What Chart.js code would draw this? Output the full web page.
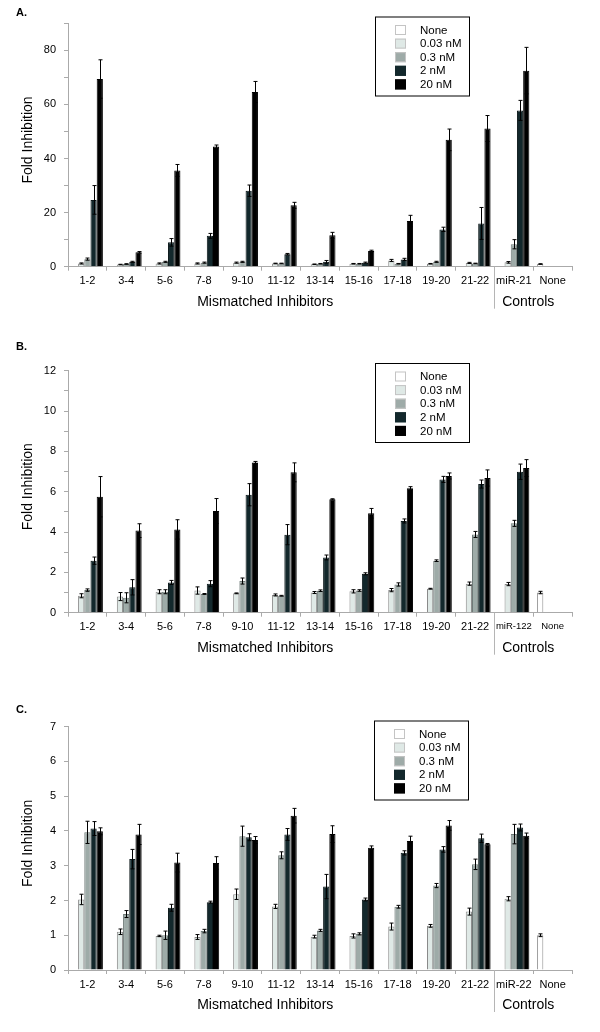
<!DOCTYPE html>
<html>
<head>
<meta charset="utf-8">
<script src="https://cdn.jsdelivr.net/npm/chart.js@4.4.1/dist/chart.umd.min.js"></script>
<style>
  body { margin: 0; background: #fff; width: 600px; height: 1032px; position: relative; overflow: hidden; font-family: Arial, "Liberation Sans", sans-serif; }
  .panel { position: absolute; left: 0; width: 600px; }
  .tag { position: absolute; left: 16px; font-weight: bold; font-size: 11px; color: #000; }
</style>
</head>
<body>
<div class="panel" style="top:0;height:330px"><canvas id="chartA" width="600" height="330"></canvas></div>
<div class="panel" style="top:330px;height:330px"><canvas id="chartB" width="600" height="330"></canvas></div>
<div class="panel" style="top:660px;height:372px"><canvas id="chartC" width="600" height="372"></canvas></div>
<div class="tag" style="top:6px">A.</div>
<div class="tag" style="top:340px">B.</div>
<div class="tag" style="top:703px">C.</div>
<script>
// series shared by all three panels
const seriesNames = ['None', '0.03 nM', '0.3 nM', '2 nM', '20 nM'];
const seriesColors = ['#ffffff', '#dfe9e6', '#9eaba8', '#13282c', '#000000'];
const seriesBorders = ['#8a8a8a', '#8a8a8a', '#6f7a78', '#0b1719', '#000000'];

// panel A
const categoriesA = ['1-2', '3-4', '5-6', '7-8', '9-10', '11-12', '13-14', '15-16', '17-18', '19-20', '21-22', 'miR-21', 'None'];
const noneA    = [null, null, null, null, null, null, null, null, null, null, null, null, 1.0];
const noneAErr = [null, null, null, null, null, null, null, null, null, null, null, null, 0.1];
const a003    = [1.2, 0.8, 1.2, 1.2, 1.5, 1.2, 0.9, 1.1, 2.3, 1.1, 1.4, 1.6, null];
const a003Err = [0.2, 0.1, 0.2, 0.2, 0.2, 0.1, 0.1, 0.1, 0.4, 0.1, 0.2, 0.3, null];
const a03     = [2.8, 1.0, 1.8, 1.5, 1.8, 1.2, 1.1, 1.1, 1.1, 1.8, 1.2, 8.3, null];
const a03Err  = [0.4, 0.1, 0.2, 0.2, 0.2, 0.1, 0.1, 0.1, 0.1, 0.2, 0.1, 1.7, null];
const a2      = [24.7, 1.8, 9.0, 11.4, 28.1, 4.6, 1.8, 1.5, 2.7, 13.8, 16.0, 57.8, null];
const a2Err   = [5.3, 0.2, 1.4, 0.9, 2.1, 0.3, 0.5, 0.2, 0.4, 0.8, 5.9, 3.7, null];
const a20     = [69.4, 5.3, 35.6, 44.4, 64.6, 22.7, 11.6, 5.8, 16.9, 46.9, 51.1, 72.5, null];
const a20Err  = [7.1, 0.3, 2.2, 0.6, 3.9, 1.1, 1.1, 0.3, 2.1, 4.0, 4.8, 8.6, null];

// panel B
const categoriesB = ['1-2', '3-4', '5-6', '7-8', '9-10', '11-12', '13-14', '15-16', '17-18', '19-20', '21-22', 'miR-122', 'None'];
const noneB    = [null, null, null, null, null, null, null, null, null, null, null, null, 1.0];
const noneBErr = [null, null, null, null, null, null, null, null, null, null, null, null, 0.06];
const b003    = [0.84, 0.80, 1.04, 1.10, 0.96, 0.88, 1.00, 1.06, 1.12, 1.19, 1.44, 1.42, null];
const b003Err = [0.10, 0.20, 0.10, 0.18, 0.02, 0.05, 0.05, 0.08, 0.08, 0.02, 0.08, 0.08, null];
const b03     = [1.12, 0.74, 1.04, 0.93, 1.57, 0.84, 1.09, 1.10, 1.40, 2.58, 3.88, 4.43, null];
const b03Err  = [0.06, 0.25, 0.10, 0.02, 0.15, 0.02, 0.04, 0.04, 0.08, 0.04, 0.15, 0.15, null];
const b2      = [2.58, 1.26, 1.50, 1.44, 5.85, 3.87, 2.74, 1.93, 4.55, 6.61, 6.38, 6.99, null];
const b2Err   = [0.18, 0.38, 0.10, 0.15, 0.55, 0.50, 0.12, 0.05, 0.10, 0.15, 0.20, 0.38, null];
const b20     = [5.75, 4.07, 4.13, 5.04, 7.45, 6.96, 5.62, 4.93, 6.17, 6.78, 6.68, 7.17, null];
const b20Err  = [1.00, 0.34, 0.48, 0.62, 0.05, 0.47, 0.03, 0.24, 0.08, 0.15, 0.40, 0.42, null];

// panel C
const categoriesC = ['1-2', '3-4', '5-6', '7-8', '9-10', '11-12', '13-14', '15-16', '17-18', '19-20', '21-22', 'miR-22', 'None'];
const noneC    = [null, null, null, null, null, null, null, null, null, null, null, null, 1.0];
const noneCErr = [null, null, null, null, null, null, null, null, null, null, null, null, 0.04];
const c003    = [2.03, 1.10, 0.98, 0.95, 2.18, 1.83, 0.96, 0.98, 1.25, 1.27, 1.68, 2.05, null];
const c003Err = [0.15, 0.08, 0.02, 0.07, 0.15, 0.06, 0.04, 0.06, 0.10, 0.04, 0.10, 0.06, null];
const c03     = [3.96, 1.61, 1.00, 1.12, 3.85, 3.30, 1.14, 1.04, 1.82, 2.43, 3.04, 3.91, null];
const c03Err  = [0.32, 0.10, 0.12, 0.05, 0.29, 0.10, 0.03, 0.03, 0.04, 0.06, 0.15, 0.28, null];
const c2      = [4.07, 3.19, 1.79, 1.95, 3.82, 3.90, 2.40, 2.03, 3.37, 3.47, 3.79, 4.10, null];
const c2Err   = [0.20, 0.28, 0.10, 0.03, 0.10, 0.17, 0.35, 0.04, 0.06, 0.08, 0.12, 0.10, null];
const c20     = [3.99, 3.90, 3.09, 3.08, 3.74, 4.44, 3.91, 3.52, 3.71, 4.16, 3.62, 3.86, null];
const c20Err  = [0.10, 0.29, 0.27, 0.18, 0.10, 0.21, 0.24, 0.05, 0.14, 0.14, 0.02, 0.08, null];

const FONT = 'Arial, "Liberation Sans", sans-serif';

// error bars with caps, drawn over the bars
const errorBars = {
    id: 'errorBars',
    afterDatasetsDraw(chart) {
        const ctx = chart.ctx;
        const y = chart.scales.y;
        ctx.save();
        ctx.strokeStyle = '#000';
        ctx.lineWidth = 1;
        chart.data.datasets.forEach((ds, i) => {
            const meta = chart.getDatasetMeta(i);
            meta.data.forEach((bar, j) => {
                const v = ds.data[j];
                const e = ds.errors[j];
                if (v == null || e == null) return;
                const top = y.getPixelForValue(v + e);
                const bot = y.getPixelForValue(Math.max(0, v - e));
                const x = Math.round(bar.x) + 0.5;
                ctx.beginPath();
                ctx.moveTo(x, top);
                ctx.lineTo(x, bot);
                ctx.moveTo(x - 2, top);
                ctx.lineTo(x + 2, top);
                ctx.moveTo(x - 2, bot);
                ctx.lineTo(x + 2, bot);
                ctx.stroke();
            });
        });
        ctx.restore();
    }
};

// boxed legend inside the plot, y title, group labels under the axis
const panelExtras = {
    id: 'panelExtras',
    afterDraw(chart, args, opts) {
        const ctx = chart.ctx;
        const x = chart.scales.x;
        const area = chart.chartArea;
        const split = (x.getPixelForValue(10) + x.getPixelForValue(11)) / 2;
        ctx.save();

        ctx.strokeStyle = '#b5b5b5';
        ctx.lineWidth = 1;
        ctx.beginPath();
        ctx.moveTo(Math.round(split) + 0.5, area.bottom);
        ctx.lineTo(Math.round(split) + 0.5, area.bottom + 42);
        ctx.stroke();

        ctx.fillStyle = '#000';
        ctx.font = '14px ' + FONT;
        ctx.textAlign = 'center';
        ctx.textBaseline = 'middle';
        ctx.fillText('Mismatched Inhibitors', (area.left + split) / 2 - 16, area.bottom + 35);
        ctx.fillText('Controls', (split + area.right) / 2 - 5, area.bottom + 35);

        // y axis title
        ctx.save();
        ctx.translate(28.5, (area.top + area.bottom) / 2 - 5);
        ctx.rotate(-Math.PI / 2);
        ctx.font = '14px ' + FONT;
        ctx.fillText('Fold Inhibition', 0, 0);
        ctx.restore();

        // legend box
        const lx = opts.left, ly = opts.top;
        ctx.strokeStyle = '#000';
        ctx.strokeRect(lx + 0.5, ly + 0.5, 94, 79);
        ctx.font = '11.5px ' + FONT;
        ctx.textAlign = 'left';
        chart.data.datasets.forEach((ds, i) => {
            const cy = ly + 13.5 + i * 13.6;
            ctx.fillStyle = ds.backgroundColor;
            ctx.fillRect(lx + 20, cy - 5, 11, 10);
            ctx.strokeStyle = i < 3 ? '#c4c4c4' : ds.backgroundColor;
            ctx.strokeRect(lx + 20.5, cy - 4.5, 10, 9);
            ctx.fillStyle = '#000';
            ctx.fillText(ds.label, lx + 45, cy + 0.5);
        });
        ctx.restore();
    }
};

function buildChart(id, labels, values, errors, yMax, yStep, labelEvery, plot, legendPos, ctrlFontSize) {
    const canvas = document.getElementById(id);
    const datasets = seriesNames.map((name, i) => ({
        label: name,
        data: values[i],
        errors: errors[i],
        backgroundColor: seriesColors[i],
        borderColor: seriesBorders[i],
        borderWidth: 1,
        categoryPercentage: 0.8,
        barPercentage: 1.0
    }));
    return new Chart(canvas, {
        type: 'bar',
        data: { labels: labels, datasets: datasets },
        options: {
            responsive: false,
            animation: false,
            layout: { padding: { top: plot.top, right: 28, left: 0, bottom: 0 } },
            plugins: {
                legend: { display: false },
                tooltip: { enabled: false },
                panelExtras: legendPos
            },
            scales: {
                x: {
                    grid: { display: true, drawOnChartArea: false, offset: true, tickLength: 4, color: '#aaaaaa' },
                    border: { color: '#aaaaaa' },
                    ticks: {
                        color: '#000',
                        padding: 4,
                        maxRotation: 0,
                        autoSkip: false,
                        font: (c) => ({ family: FONT, size: c.index >= 11 ? ctrlFontSize : 11 })
                    },
                    afterFit: (s) => { s.height = plot.xHeight; }
                },
                y: {
                    min: 0,
                    max: yMax,
                    grid: { display: true, drawOnChartArea: false, tickLength: 4, color: '#aaaaaa' },
                    border: { color: '#aaaaaa' },
                    ticks: {
                        stepSize: yStep,
                        color: '#000',
                        padding: 8,
                        font: { family: FONT, size: 11 },
                        callback: (v) => (Math.round(v / yStep) % labelEvery === 0 ? v : '')
                    },
                    afterFit: (s) => { s.width = 68; }
                }
            }
        },
        plugins: [errorBars, panelExtras]
    });
}

buildChart('chartA', categoriesA,
    [noneA, a003, a03, a2, a20],
    [noneAErr, a003Err, a03Err, a2Err, a20Err],
    90, 10, 2, { top: 23.3, xHeight: 63.3 }, { left: 375, top: 16.5 }, 11);

buildChart('chartB', categoriesB,
    [noneB, b003, b03, b2, b20],
    [noneBErr, b003Err, b03Err, b2Err, b20Err],
    12, 1, 2, { top: 40.7, xHeight: 47.3 }, { left: 375, top: 33 }, 9.5);

buildChart('chartC', categoriesC,
    [noneC, c003, c03, c2, c20],
    [noneCErr, c003Err, c03Err, c2Err, c20Err],
    7, 1, 1, { top: 66.7, xHeight: 62 }, { left: 374, top: 60.5 }, 11);
</script>
</body>
</html>
